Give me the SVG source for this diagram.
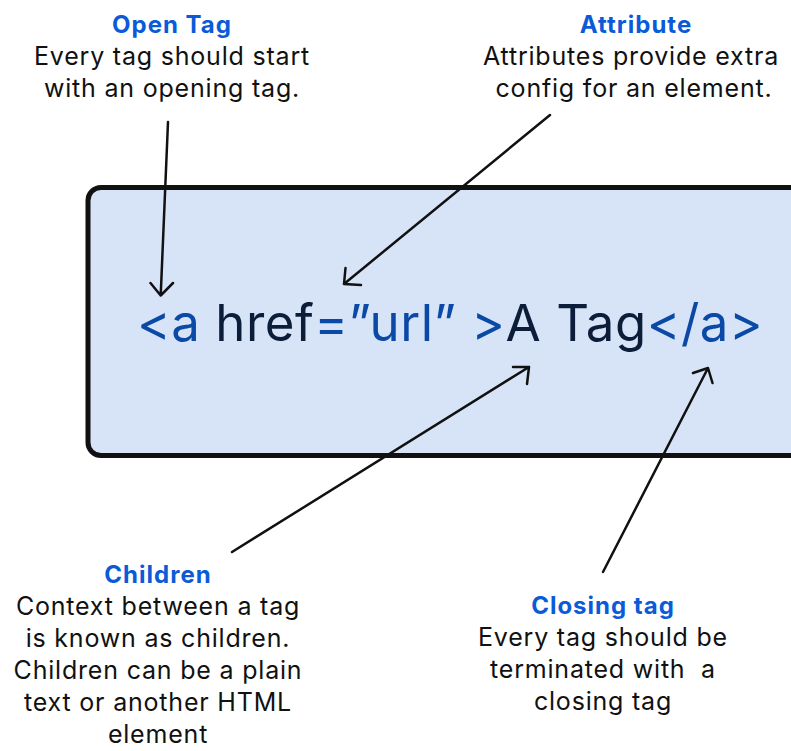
<svg xmlns="http://www.w3.org/2000/svg" width="791" height="751" viewBox="0 0 791 751">
<style>
.title{font-family:Inter,"Noto Sans",sans-serif;font-weight:700;font-size:24px;letter-spacing:1px;fill:#0b5bd8;text-anchor:middle}
.body{font-family:Inter,"Noto Sans",sans-serif;font-size:25px;letter-spacing:0.8px;fill:#111;text-anchor:middle}
.code{font-family:Inter,"Liberation Sans",sans-serif;font-size:51px;letter-spacing:0.5px}
.b{fill:#0a4aa6}
.d{fill:#0c1d3a}
.arrow{fill:none;stroke:#111;stroke-width:2.5;stroke-linecap:round;stroke-linejoin:round}
</style>
<rect width="791" height="751" fill="#ffffff"/>
<g id="box">
<rect x="88" y="187.5" width="760" height="268" rx="13" fill="#d7e4f7" stroke="#111" stroke-width="5"/>
<text class="code" x="137" y="341"><tspan class="b">&lt;a</tspan><tspan class="d"> href</tspan><tspan class="b">=”url”</tspan><tspan class="b"> &gt;</tspan><tspan class="d">A Tag</tspan><tspan class="b">&lt;/a&gt;</tspan></text>
</g>
<g id="open-tag">
<text class="title" x="172" y="33">Open Tag</text>
<text class="body" x="172" y="65">Every tag should start</text>
<text class="body" x="172" y="97">with an opening tag.</text>
</g>
<g id="attribute">
<text class="title" x="636" y="33">Attribute</text>
<text class="body" x="631" y="65">Attributes provide extra</text>
<text class="body" x="634" y="97">config for an element.</text>
</g>
<g id="children">
<text class="title" x="158" y="583">Children</text>
<text class="body" x="158" y="615">Context between a tag</text>
<text class="body" x="158" y="647">is known as children.</text>
<text class="body" x="158" y="679">Children can be a plain</text>
<text class="body" x="158" y="711">text or another HTML</text>
<text class="body" x="158" y="743">element</text>
</g>
<g id="closing-tag">
<text class="title" x="603" y="614">Closing tag</text>
<text class="body" x="603" y="646">Every tag should be</text>
<text class="body" x="603" y="678" xml:space="preserve" style="white-space:pre">terminated with  a</text>
<text class="body" x="603" y="710">closing tag</text>
</g>
<g id="connectors">
<path class="arrow" d="M168 122 L160.7 295.5 M150.5 283 L160.7 295.5 L173 283"/>
<path class="arrow" d="M550 115 L344 284 M345.5 268 L344 284 L361 285"/>
<path class="arrow" d="M232 552 L529 367 M513 367 L529 367 L527 384"/>
<path class="arrow" d="M603 572 L708 368 M693 373 L708 368 L712.5 383"/>
</g>
</svg>
